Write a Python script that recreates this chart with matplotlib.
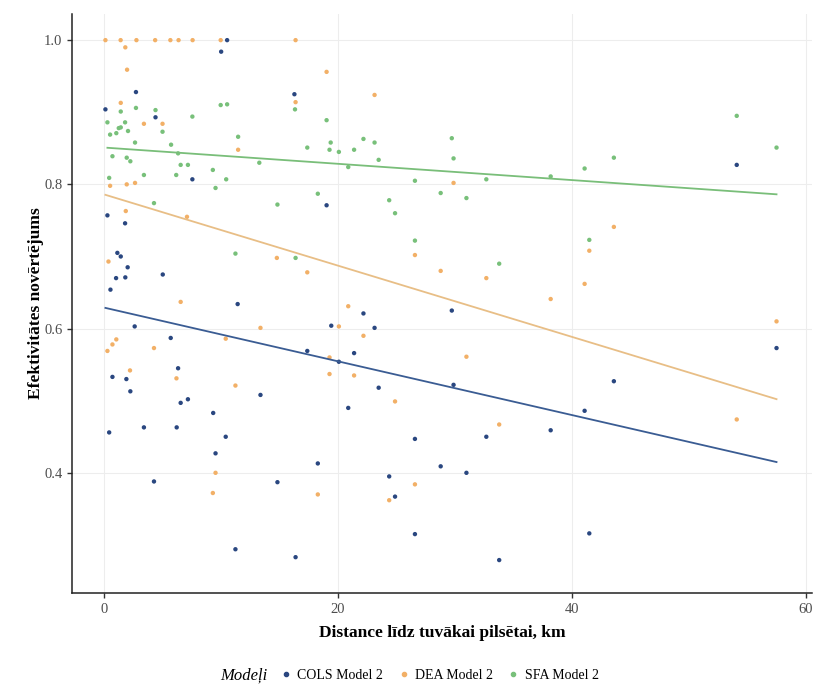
import numpy as np
import matplotlib
matplotlib.use("Agg")
import matplotlib.pyplot as plt
from matplotlib.lines import Line2D

plt.rcParams['font.family'] = ['Liberation Serif', 'DejaVu Serif']

# distance to nearest town (km) and efficiency scores per model
cols_x = [0.15, 10.55, 10.04, 2.76, 16.3, 4.43, 7.58, 19.05, 0.32, 1.83, 1.17, 1.46, 2.05,
          1.06, 1.85, 5.05, 0.58, 11.45, 22.2, 2.65, 19.45, 23.15, 5.73, 21.4, 20.1, 17.4,
          0.75, 1.94, 6.36, 2.28, 23.5, 13.4, 6.58, 7.2, 20.9, 9.36, 0.47, 3.44, 6.24, 10.43,
          26.6, 9.56, 18.3, 4.3, 14.85, 24.4, 24.9, 26.6, 11.26, 16.4, 54.1, 29.75, 57.5,
          29.9, 43.6, 41.1, 38.2, 32.7, 28.8, 31.0, 41.5, 33.8]
cols_y = [0.904, 1.0, 0.984, 0.928, 0.925, 0.893, 0.807, 0.771, 0.757, 0.746, 0.705, 0.700, 0.685,
          0.670, 0.671, 0.675, 0.654, 0.634, 0.621, 0.603, 0.604, 0.601, 0.587, 0.566, 0.554, 0.569,
          0.533, 0.530, 0.545, 0.513, 0.518, 0.508, 0.497, 0.502, 0.490, 0.483, 0.456, 0.463, 0.463, 0.450,
          0.447, 0.427, 0.413, 0.388, 0.387, 0.395, 0.367, 0.315, 0.294, 0.283, 0.827, 0.625, 0.573,
          0.522, 0.527, 0.486, 0.459, 0.450, 0.409, 0.400, 0.316, 0.279]

dea_x = [0.15, 1.45, 2.8, 4.4, 5.7, 6.4, 7.6, 10.0, 16.4, 1.85, 2.0, 19.05, 23.15, 16.4, 1.46,
         3.44, 5.03, 11.49, 0.55, 1.97, 2.68, 1.89, 7.12, 14.8, 17.4, 0.41, 6.58, 20.9, 13.4,
         20.1, 0.32, 0.75, 1.08, 4.3, 10.43, 22.2, 19.3, 2.25, 6.22, 19.3, 21.4, 11.26, 24.9,
         9.56, 26.6, 9.33, 18.3, 24.4, 29.9, 43.6, 26.6, 41.5, 28.8, 32.7, 41.1, 38.2, 57.5,
         31.0, 54.1, 33.8]
dea_y = [1.0, 1.0, 1.0, 1.0, 1.0, 1.0, 1.0, 1.0, 1.0, 0.990, 0.959, 0.956, 0.924, 0.914, 0.913,
         0.884, 0.884, 0.848, 0.798, 0.800, 0.802, 0.763, 0.755, 0.698, 0.678, 0.693, 0.637, 0.631, 0.601,
         0.603, 0.569, 0.578, 0.585, 0.573, 0.586, 0.590, 0.560, 0.542, 0.531, 0.537, 0.535, 0.521, 0.499,
         0.400, 0.384, 0.372, 0.370, 0.362, 0.802, 0.741, 0.702, 0.708, 0.680, 0.670, 0.662, 0.641, 0.610,
         0.561, 0.474, 0.467]

sfa_x = [1.46, 2.76, 4.43, 7.58, 10.0, 10.55, 16.35, 0.32, 0.55, 1.08, 1.29, 1.46, 1.83, 2.08,
         5.03, 2.68, 5.76, 11.49, 0.75, 1.97, 2.28, 6.36, 6.58, 7.2, 13.3, 17.4, 19.05, 19.4,
         19.3, 20.1, 21.4, 22.2, 23.15, 23.5, 20.9, 9.33, 6.2, 3.44, 0.47, 10.47, 9.56, 18.3,
         14.85, 24.4, 24.9, 4.3, 11.26, 16.4, 54.1, 57.5, 29.75, 29.9, 26.6, 32.7, 38.2, 41.1,
         43.6, 28.8, 31.0, 26.6, 41.5, 33.8]
sfa_y = [0.901, 0.906, 0.903, 0.894, 0.910, 0.911, 0.904, 0.886, 0.869, 0.871, 0.878, 0.879, 0.886, 0.874,
         0.873, 0.858, 0.855, 0.866, 0.839, 0.837, 0.832, 0.843, 0.827, 0.827, 0.830, 0.851, 0.889, 0.858,
         0.848, 0.845, 0.848, 0.863, 0.858, 0.834, 0.824, 0.820, 0.813, 0.813, 0.809, 0.807, 0.795, 0.787,
         0.772, 0.778, 0.760, 0.774, 0.704, 0.698, 0.895, 0.851, 0.864, 0.836, 0.805, 0.807, 0.811, 0.822,
         0.837, 0.788, 0.781, 0.722, 0.723, 0.690]

labels = ['COLS Model 2', 'DEA Model 2', 'SFA Model 2']
colors = ['#2A4780', '#F2B067', '#78C07A']
line_colors = ['#3A5C93', '#E8BE86', '#79BE79']

fig = plt.figure(figsize=(8.19, 6.91), dpi=100)
ax = fig.add_axes([0.088, 0.142, 0.903, 0.838])

series = [(cols_x, cols_y), (dea_x, dea_y), (sfa_x, sfa_y)]
for (xs, ys), c in zip(series, colors):
    ax.scatter(xs, ys, s=10, color=c, edgecolors='none', zorder=3)

# linear fit per model
for (xs, ys), lc in zip(series, line_colors):
    xs = np.array(xs)
    ys = np.array(ys)
    k, b = np.polyfit(xs, ys, 1)
    xl = np.array([xs.min(), xs.max()])
    ax.plot(xl, k * xl + b, color=lc, lw=1.3, zorder=4)

ax.set_xlim(-2.7, 60.5)
ax.set_ylim(0.2335, 1.0365)
ax.set_xticks([0, 20, 40, 60])
ax.set_yticks([0.4, 0.6, 0.8, 1.0])
ax.set_yticklabels(['0.4', '0.6', '0.8', '1.0'])
ax.grid(True, color='#EDEDED', lw=0.8)
ax.set_axisbelow(True)
for s in ['top', 'right']:
    ax.spines[s].set_visible(False)
for s in ['left', 'bottom']:
    ax.spines[s].set_color('#222222')
    ax.spines[s].set_linewidth(1.1)
ax.tick_params(colors='#333333', labelcolor='#4D4D4D', labelsize=10.5, length=3.5, width=1)

ax.set_xlabel('Distance līdz tuvākai pilsētai, km', fontsize=12.5, fontweight='bold', labelpad=7)
ax.set_ylabel('Efektivitātes novērtējums', fontsize=12.5, fontweight='bold', labelpad=0)

handles = [Line2D([], [], marker='o', ls='', color=c, markersize=3) for c in colors]
leg = fig.legend(handles, labels, loc='center', bbox_to_anchor=(0.5, 0.022), ncol=3, frameon=False,
                 title='Modeļi', fontsize=10, handletextpad=0.3, columnspacing=1.0, handlelength=1.0)
leg.get_title().set_fontstyle('italic')
leg.get_title().set_fontsize(12)
# title on the same row as the keys
leg._legend_box.__class__ = matplotlib.offsetbox.HPacker
leg._legend_box.sep = 8

fig.savefig('out.png', dpi=100)
